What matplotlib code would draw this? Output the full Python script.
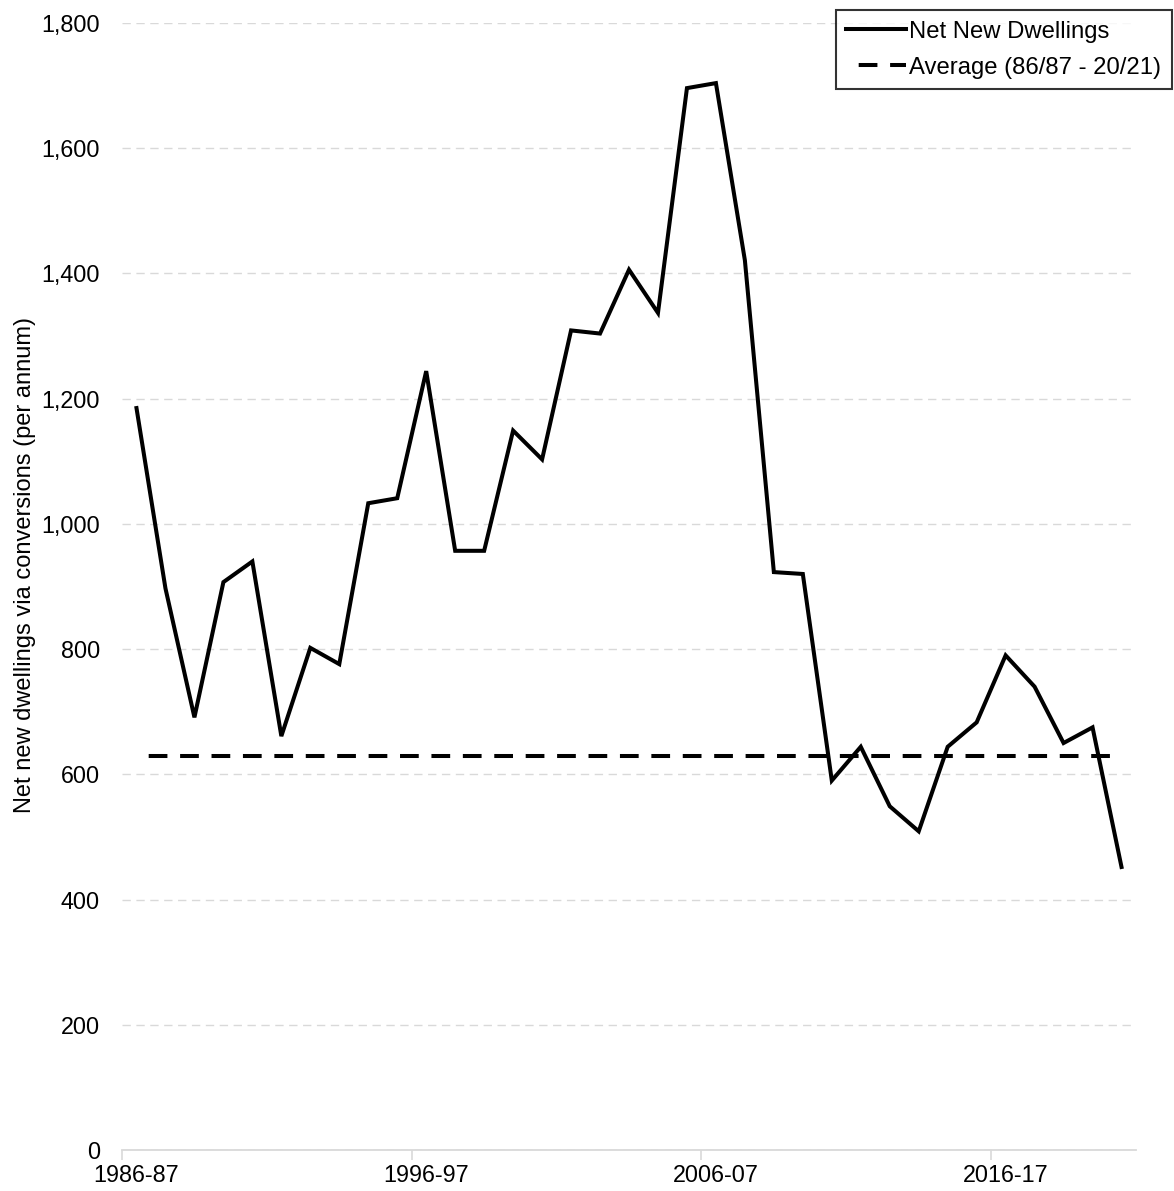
import matplotlib
matplotlib.use("Agg")
import matplotlib.pyplot as plt
from matplotlib.ticker import FuncFormatter, FixedLocator

plt.rcParams['font.family'] = ['Liberation Sans', 'DejaVu Sans']

years = [f"{y}-{str(y + 1)[-2:]}" for y in range(1986, 2021)]
net_new = [1185, 897, 691, 907, 940, 661, 802, 776, 1033, 1041,
           1244, 957, 957, 1149, 1103, 1309, 1304, 1406, 1337, 1696,
           1704, 1421, 923, 920, 590, 644, 549, 509, 644, 683,
           790, 740, 650, 675, 452]
average = 630
tick_labels = ["1986-87", "1996-97", "2006-07", "2016-17"]

W, H = 1174, 1191
fig = plt.figure(figsize=(W / 100, H / 100), dpi=100)
ax = fig.add_axes([122 / W, 1 - 1150 / H, (1136 - 122) / W, (1150 - 23) / H])

x = list(range(len(years)))
ax.plot(x, net_new, color='black', lw=2.9, solid_joinstyle='miter', label='Net New Dwellings', zorder=3)
ax.plot([x[0], x[-1]], [average, average], color='black', lw=2.9,
        linestyle=(4.65, (4.65, 3.15)), dash_capstyle='butt', label='Average (86/87 - 20/21)', zorder=3)

ax.set_xlim(-0.5, len(years) - 0.5)
ax.set_ylim(0, 1800)
ax.set_yticks(range(0, 1801, 200))
ax.yaxis.set_major_formatter(FuncFormatter(lambda v, p: f"{int(v):,}"))
ax.grid(axis='y', color='#d9d9d9', lw=1.0, linestyle=(0, (6, 4)))
ax.set_axisbelow(True)

idx = [years.index(t) for t in tick_labels]
ax.set_xticks(idx)
ax.set_xticklabels(tick_labels)
ax.xaxis.set_minor_locator(FixedLocator([i - 0.5 for i in idx]))
ax.tick_params(axis='x', which='major', length=0, pad=10, labelsize=16.8)
ax.tick_params(axis='x', which='minor', length=7, width=1.2, color='#d9d9d9')
ax.tick_params(axis='y', length=0, pad=15.8, labelsize=16.8)

for s in ['top', 'right', 'left']:
    ax.spines[s].set_visible(False)
ax.spines['bottom'].set_color('#d9d9d9')
ax.spines['bottom'].set_linewidth(1.3)

ax.set_ylabel('Net new dwellings via conversions (per annum)', fontsize=17)
ax.yaxis.set_label_coords(-0.0848, 0.519)

leg = ax.legend(loc='upper right', bbox_to_anchor=(1172 / W, 1 - 10 / H), bbox_transform=fig.transFigure,
                borderaxespad=0, fontsize=17.2, frameon=True, fancybox=False, edgecolor='black',
                handlelength=2.5, handletextpad=0.15, borderpad=0.44, labelspacing=0.59)
leg.get_frame().set_linewidth(1.5)

fig.savefig('out.png', dpi=100)
